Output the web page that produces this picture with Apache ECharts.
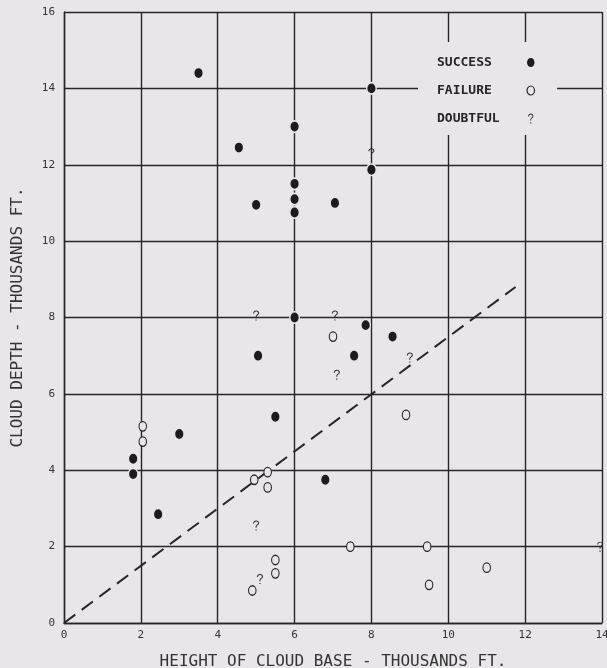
<!DOCTYPE html>
<html><head><meta charset="utf-8">
<script src="https://cdn.jsdelivr.net/npm/echarts@6/dist/echarts.min.js"></script>
<style>html,body{margin:0;padding:0;background:#e9e6ea}#c{width:607px;height:668px}</style>
</head><body><div id="c"></div>
<script>
// ---- data (thousands of ft) ----
const successX = [3.5, 8.0, 6.0, 4.55, 8.0, 6.0, 6.0, 6.0, 5.0, 7.05, 6.0, 7.85, 8.55, 5.05, 7.55, 5.5, 3.0, 1.8, 1.8, 2.45, 6.8];
const successY = [14.4, 14.0, 13.0, 12.45, 11.87, 11.5, 11.1, 10.75, 10.95, 11.0, 8.0, 7.8, 7.5, 7.0, 7.0, 5.4, 4.95, 4.3, 3.9, 2.85, 3.75];
const failureX = [7.0, 8.9, 2.05, 2.05, 5.3, 4.95, 5.3, 7.45, 9.45, 5.5, 5.5, 11.0, 9.5, 4.9];
const failureY = [7.5, 5.45, 5.15, 4.75, 3.95, 3.75, 3.55, 2.0, 2.0, 1.65, 1.3, 1.45, 1.0, 0.85];
const doubtfulX = [8.0, 5.0, 7.05, 9.0, 7.1, 5.0, 5.1, 13.95];
const doubtfulY = [12.3, 8.05, 8.05, 6.95, 6.5, 2.55, 1.15, 2.0];
const trendX = [0, 11.75];
const trendY = [0, 8.8];
const seriesNames = ['SUCCESS', 'FAILURE', 'DOUBTFUL'];
const xTitle = 'HEIGHT OF CLOUD BASE - THOUSANDS FT.';
const yTitle = 'CLOUD DEPTH - THOUSANDS FT.';

const paper = '#e9e6ea';
const ink = '#262626';
const font = '"DejaVu Sans Mono", "Liberation Mono", monospace';
const ellipse = 'path://M0,6 C0,2.7 2.2,0 5,0 C7.8,0 10,2.7 10,6 C10,9.3 7.8,12 5,12 C2.2,12 0,9.3 0,6 Z';
const qmark = 'path://M1.5,4.6 C1.5,2 3.2,0.5 5,0.5 C7.2,0.5 8.6,2 8.6,3.9 C8.6,5.9 6.9,6.6 5.9,7.8 C5.5,8.3 5.6,9 5.6,10.2 L4.4,10.2 C4.4,8.8 4.4,8 5,7.2 C6,6 7.4,5.4 7.4,3.9 C7.4,2.6 6.4,1.7 5,1.7 C3.6,1.7 2.7,2.8 2.7,4.6 Z M4.3,12.6 L5.7,12.6 L5.7,14.2 L4.3,14.2 Z';

const zip = (xs, ys) => xs.map((x, i) => [x, ys[i]]);

const chart = echarts.init(document.getElementById('c'));
chart.setOption({
  backgroundColor: paper,
  animation: false,
  grid: { left: 64, right: 5, top: 12, bottom: 45, containLabel: false, outerBoundsMode: 'none' },
  xAxis: {
    type: 'value', min: 0, max: 14, interval: 2,
    name: xTitle, nameLocation: 'middle', nameGap: 31,
    nameTextStyle: { fontFamily: font, fontSize: 16, color: '#333' },
    axisLine: { show: true, lineStyle: { color: ink, width: 1.4 } },
    axisTick: { show: false },
    axisLabel: { fontFamily: font, fontSize: 11, color: '#333', margin: 7 },
    splitLine: { show: true, lineStyle: { color: ink, width: 1.4 } }
  },
  yAxis: {
    type: 'value', min: 0, max: 16, interval: 2,
    name: yTitle, nameLocation: 'middle', nameGap: 38,
    nameTextStyle: { fontFamily: font, fontSize: 16, color: '#333' },
    axisLine: { show: true, lineStyle: { color: ink, width: 1.4 } },
    axisTick: { show: false },
    axisLabel: { fontFamily: font, fontSize: 11, color: '#333', margin: 9 },
    splitLine: { show: true, lineStyle: { color: ink, width: 1.4 } }
  },
  legend: {
    data: [
      { name: seriesNames[0], itemStyle: { borderWidth: 0 } },
      { name: seriesNames[1], itemStyle: { borderWidth: 1.2 } },
      { name: seriesNames[2] }
    ],
    orient: 'vertical', align: 'right',
    left: 418, top: 42,
    padding: [14, 22, 10, 19],
    backgroundColor: paper,
    itemWidth: 7.5, itemHeight: 10, itemGap: 15,
    selectedMode: false,
    formatter: '{a|{name}}',
    textStyle: { rich: { a: { width: 85, align: 'left', lineHeight: 14, fontFamily: font, fontSize: 13, fontWeight: 'bold', color: ink } } }
  },
  series: [
    {
      name: 'trend', type: 'line', data: zip(trendX, trendY),
      symbol: 'none', silent: true, z: 2,
      lineStyle: { color: ink, width: 2, type: [14, 8] }
    },
    {
      name: seriesNames[0], type: 'scatter', data: zip(successX, successY), z: 3,
      symbol: ellipse, symbolSize: [9.5, 11.5],
      itemStyle: { color: '#1c1c1c', borderColor: paper, borderWidth: 1.5, opacity: 1 }
    },
    {
      name: seriesNames[1], type: 'scatter', data: zip(failureX, failureY), z: 3,
      symbol: ellipse, symbolSize: [7.5, 9.5],
      itemStyle: { color: paper, borderColor: ink, borderWidth: 1.2, opacity: 1 }
    },
    {
      name: seriesNames[2], type: 'scatter', data: zip(doubtfulX, doubtfulY), z: 3,
      symbol: qmark, symbolSize: [6, 10],
      itemStyle: { color: ink, opacity: 1 }
    }
  ]
});
</script></body></html>
